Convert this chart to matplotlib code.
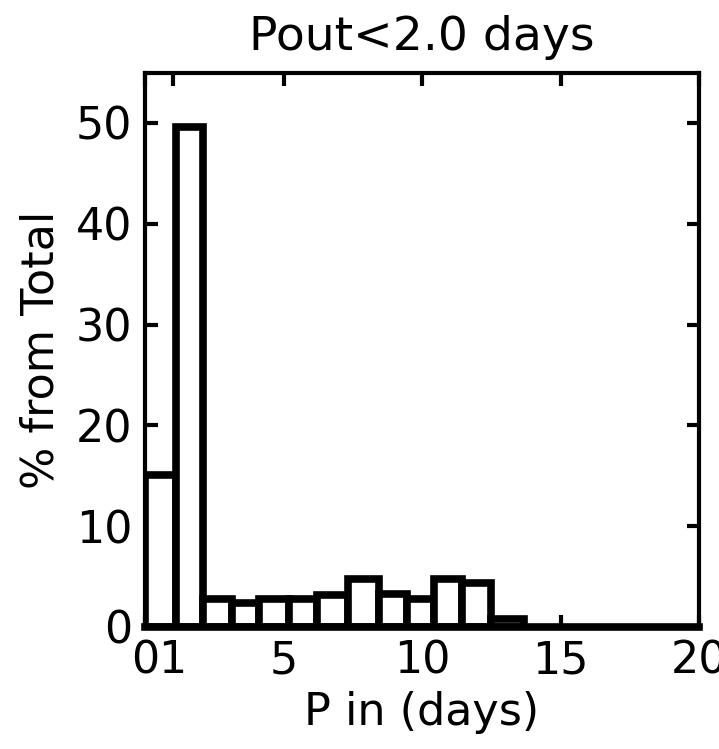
import matplotlib
matplotlib.use('Agg')
import matplotlib.pyplot as plt
import numpy as np

# bin edges (days) and percentage of total in each bin
bin_edges = [0.0, 1.12, 2.11, 3.14, 4.13, 5.18, 6.21, 7.33, 8.43, 9.44, 10.43, 11.44, 12.49, 13.68]
percent = [15.1, 49.6, 2.77, 2.37, 2.77, 2.77, 3.2, 4.75, 3.26, 2.8, 4.75, 4.35, 0.8]
x_ticks = [0, 1, 5, 10, 15, 20]
y_ticks = [0, 10, 20, 30, 40, 50]

fig = plt.figure(figsize=(7.19, 7.49), dpi=100)
ax = fig.add_axes([0.2017, 0.1629, 0.7705, 0.7403])

edges = np.array(bin_edges)
ax.bar(edges[:-1], percent, width=np.diff(edges), align='edge',
       color='white', edgecolor='black', linewidth=5.5, zorder=2)

ax.set_xlim(0, 20)
ax.set_ylim(0, 55)
ax.set_xticks(x_ticks)
ax.set_yticks(y_ticks)

for side in ['left', 'right', 'top']:
    ax.spines[side].set_linewidth(3)
ax.spines['bottom'].set_linewidth(5.5)

ax.tick_params(direction='in', length=9, width=3, top=True, right=True,
               labelsize=32, pad=9)

ax.set_title('Pout<2.0 days', fontsize=34, pad=16)
ax.set_xlabel('P in (days)', fontsize=32, labelpad=6)
ax.set_ylabel('% from Total', fontsize=32, labelpad=10)

fig.savefig('out.png', dpi=100)
